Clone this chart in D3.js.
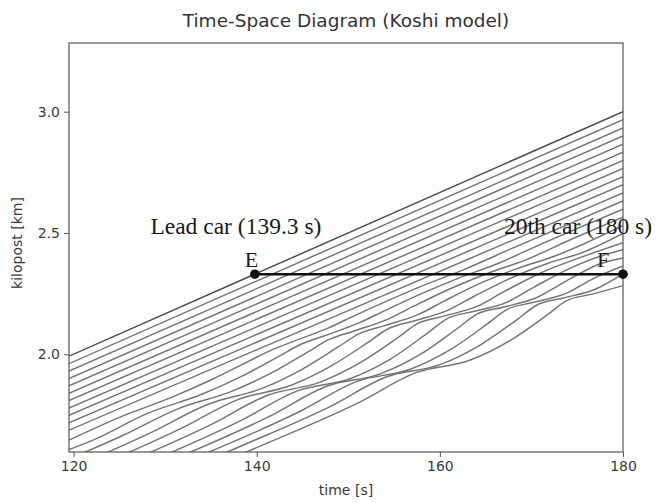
<!DOCTYPE html>
<html>
<head>
<meta charset="utf-8">
<title>Time-Space Diagram (Koshi model)</title>
<script src="https://d3js.org/d3.v7.min.js"></script>
<style>
  body { margin: 0; background: #fff; }
  svg { display: block; }
</style>
</head>
<body>
<div id="chart"></div>
<script>

// followers 0-10 run straight: kilopost [km] at 119.5 s and at 180 s
var straightStart = [1.992, 1.961, 1.931, 1.900, 1.870, 1.839, 1.809, 1.778, 1.748, 1.717, 1.687];
var straightEnd   = [3.000, 2.967, 2.933, 2.900, 2.866, 2.833, 2.799, 2.766, 2.732, 2.699, 2.665];
var straightT = [119.5, 180];

// wavy followers, [time s, kilopost km]
var car11 = [[119.5,1.646],[124.95,1.739],[130.75,1.823],[135.15,1.897],[139.15,1.972],[141.35,2.013],[144.15,2.055],[147.85,2.109],[150.75,2.160],[154.75,2.228],[158.75,2.292],[162.75,2.351],[167.75,2.434],[180,2.632]];
var car12 = [[119.5,1.607],[122,1.644],[128.2,1.758],[134,1.835],[138.4,1.910],[142.4,1.991],[144.6,2.037],[147.4,2.076],[151.1,2.128],[154,2.180],[158,2.250],[162,2.313],[166,2.369],[171,2.453],[180,2.598]];
var car13 = [[119.5,1.568],[125.25,1.663],[131.45,1.776],[137.25,1.847],[141.65,1.924],[145.65,2.011],[147.85,2.060],[150.65,2.096],[154.35,2.145],[157.25,2.200],[161.25,2.272],[165.25,2.334],[169.25,2.387],[174.25,2.472],[180,2.565]];
var car14 = [[119.5,1.527],[128.5,1.678],[134.7,1.794],[140.5,1.858],[144.9,1.937],[148.9,2.030],[151.1,2.083],[153.9,2.117],[157.6,2.163],[160.5,2.220],[164.5,2.294],[168.5,2.354],[172.5,2.404],[180,2.531]];
var car15 = [[120.55,1.506],[131.75,1.694],[137.95,1.813],[143.75,1.872],[148.15,1.952],[152.15,2.049],[154.35,2.105],[157.15,2.137],[160.85,2.181],[163.75,2.239],[167.75,2.314],[171.75,2.374],[175.75,2.422],[180,2.498]];
var car16 = [[123.8,1.522],[135,1.710],[141.2,1.831],[147,1.886],[151.4,1.967],[155.4,2.068],[157.6,2.127],[160.4,2.157],[164.1,2.198],[167,2.258],[171,2.335],[175,2.394],[180,2.460]];
var car17 = [[127.05,1.537],[138.25,1.726],[144.45,1.849],[150.25,1.900],[154.65,1.981],[158.65,2.087],[160.85,2.148],[163.65,2.176],[167.35,2.215],[170.25,2.276],[174.25,2.355],[178.25,2.413],[180,2.431]];
var car18 = [[130.3,1.557],[141.5,1.746],[147.7,1.869],[153.5,1.919],[157.9,2.000],[161.9,2.106],[164.1,2.166],[166.9,2.194],[170.6,2.234],[173.5,2.295],[177.5,2.373],[180,2.397]];
var car19 = [[133.55,1.577],[144.75,1.765],[150.95,1.888],[156.75,1.938],[161.15,2.019],[165.15,2.124],[167.35,2.185],[170.15,2.213],[173.85,2.252],[176.75,2.312],[180,2.364]];
var car20 = [[134,1.550],[136.8,1.597],[148,1.784],[154.2,1.907],[160,1.957],[164.4,2.038],[168.4,2.142],[170.6,2.203],[173.4,2.231],[177.1,2.270],[180,2.331]];
var car21 = [[137,1.566],[140.05,1.616],[151.25,1.803],[157.45,1.925],[163.25,1.975],[167.65,2.056],[171.65,2.160],[173.85,2.221],[176.65,2.248],[180,2.283]];
var followers = [car11, car12, car13, car14, car15, car16, car17, car18, car19, car20, car21];

var xTicks = [120, 140, 160, 180];
var yTicks = [2.0, 2.5, 3.0];

// annotation E (lead car) and F (20th car)
var markTimes = [139.8, 180];
var markKm = 2.33;
var markLetters = ["E", "F"];
var markLabels = ["Lead car (139.3 s)", "20th car (180 s)"];

var margin = {top: 43, right: 34, bottom: 51, left: 69},
    width = 657 - margin.left - margin.right,
    height = 503 - margin.top - margin.bottom;

var svg = d3.select("#chart")
    .append("svg")
    .attr("width", width + margin.left + margin.right)
    .attr("height", height + margin.top + margin.bottom)
    .style("background", "#fff");

var g = svg.append("g")
    .attr("transform", "translate(" + margin.left + "," + margin.top + ")");

var x = d3.scaleLinear().domain([119.5, 180]).range([0, width]);
var y = d3.scaleLinear().domain([1.597, 3.283]).range([height, 0]);

g.append("clipPath").attr("id", "plotclip")
  .append("rect").attr("width", width).attr("height", height);

var lines = g.append("g").attr("clip-path", "url(#plotclip)");

var line = d3.line()
    .x(function(d) { return x(d[0]); })
    .y(function(d) { return y(d[1]); })
    .curve(d3.curveMonotoneX);

// straight cars (lead first)
var straightCars = straightStart.map(function(v, i) {
  return [[straightT[0], v], [straightT[1], straightEnd[i]]];
});

lines.selectAll(".wavy")
    .data(followers)
    .enter().append("path")
    .attr("class", "wavy")
    .attr("d", line)
    .attr("fill", "none")
    .attr("stroke", "#747474")
    .attr("stroke-width", 1.45);

lines.selectAll(".straight")
    .data(straightCars)
    .enter().append("path")
    .attr("class", "straight")
    .attr("d", line)
    .attr("fill", "none")
    .attr("stroke", function(d, i) { return i === 0 ? "#4a4a4a" : "#747474"; })
    .attr("stroke-width", 1.45);

// axes
var xAxis = g.append("g")
    .attr("transform", "translate(0," + height + ")")
    .call(d3.axisBottom(x).tickValues(xTicks).tickSize(5).tickPadding(4).tickFormat(d3.format("d")));
var yAxis = g.append("g")
    .call(d3.axisLeft(y).tickValues(yTicks).tickSize(5).tickPadding(4).tickFormat(d3.format(".1f")));

[xAxis, yAxis].forEach(function(a) {
  a.select(".domain").remove();
  a.selectAll("line").attr("stroke", "#555").attr("stroke-width", 1);
  a.selectAll("text")
    .attr("fill", "#3a3a3a")
    .style("font-family", "DejaVu Sans")
    .style("font-size", "14px");
});

// frame
g.append("rect")
    .attr("width", width)
    .attr("height", height)
    .attr("fill", "none")
    .attr("stroke", "#555")
    .attr("stroke-width", 1.2);

// titles
svg.append("text")
    .attr("x", margin.left + width / 2)
    .attr("y", 27)
    .attr("text-anchor", "middle")
    .attr("fill", "#333")
    .style("font-family", "DejaVu Sans")
    .style("font-size", "18.5px")
    .text("Time-Space Diagram (Koshi model)");

svg.append("text")
    .attr("x", margin.left + width / 2)
    .attr("y", 495)
    .attr("text-anchor", "middle")
    .attr("fill", "#3a3a3a")
    .style("font-family", "DejaVu Sans")
    .style("font-size", "14px")
    .text("time [s]");

svg.append("text")
    .attr("transform", "translate(22," + (margin.top + 200) + ") rotate(-90)")
    .attr("text-anchor", "middle")
    .attr("fill", "#3a3a3a")
    .style("font-family", "DejaVu Sans")
    .style("font-size", "14px")
    .text("kilopost [km]");

// E - F annotation
var ann = g.append("g");
ann.append("line")
    .attr("x1", x(markTimes[0])).attr("x2", x(markTimes[1]))
    .attr("y1", y(markKm)).attr("y2", y(markKm))
    .attr("stroke", "#111")
    .attr("stroke-width", 2.6);

ann.selectAll("circle")
    .data(markTimes)
    .enter().append("circle")
    .attr("cx", function(d) { return x(d); })
    .attr("cy", y(markKm))
    .attr("r", 4.8)
    .attr("fill", "#111");

var labelShift = [-19, -45];
var letterShift = [-3.5, -20];

ann.selectAll(".lab")
    .data(markLabels)
    .enter().append("text")
    .attr("class", "lab")
    .attr("x", function(d, i) { return x(markTimes[i]) + labelShift[i]; })
    .attr("y", y(markKm) - 40)
    .attr("text-anchor", "middle")
    .attr("fill", "#1a1a1a")
    .style("font-family", "Liberation Serif")
    .style("font-size", "23.5px")
    .text(function(d) { return d; });

ann.selectAll(".let")
    .data(markLetters)
    .enter().append("text")
    .attr("class", "let")
    .attr("x", function(d, i) { return x(markTimes[i]) + letterShift[i]; })
    .attr("y", y(markKm) - 7.5)
    .attr("text-anchor", "middle")
    .attr("fill", "#1a1a1a")
    .style("font-family", "Liberation Serif")
    .style("font-size", "22px")
    .text(function(d) { return d; });

</script>
</body>
</html>
